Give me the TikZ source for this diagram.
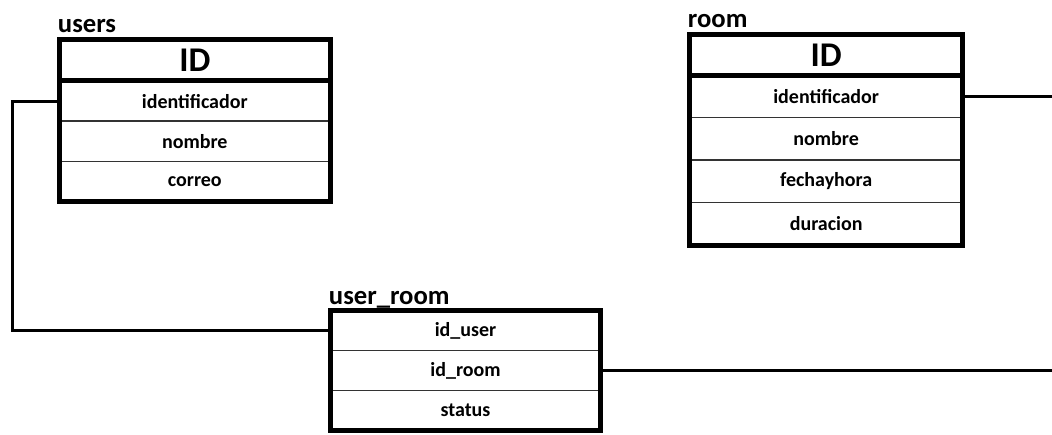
\documentclass[tikz,border=0pt]{standalone}
\usepackage{fontspec}
\setmainfont{Carlito}
\usetikzlibrary{positioning, fit}

\begin{document}
\begin{tikzpicture}[x=0.75pt, y=-0.75pt,
    field/.style={draw=black!80, line width=1.2pt, outer sep=0pt, inner sep=0pt, minimum width=203pt, minimum height=30.2pt, font=\bfseries\fontsize{15}{17}\selectfont},
    keyfield/.style={field, minimum height=31.1pt, font=\bfseries\fontsize{26}{28}\selectfont},
    table/.style={draw, line width=3.75pt, inner sep=0pt},
    title/.style={inner sep=0pt, font=\bfseries\fontsize{20}{22}\selectfont},
    link/.style={draw, line width=2.25pt}
    ]
    \useasboundingbox (0,0) rectangle (1052,435);

    % users
    \node[keyfield, anchor=north west] (usersID) at (59.5,39.5) {ID};
    \foreach \f [count=\i, remember=\i as \prev (initially ID)] in {identificador, nombre, correo} {
        \node[field, below=0pt of users\prev] (users\i) {\f};
    }
    \draw[line width=3.75pt] (usersID.south west) -- (usersID.south east);
    \node[table, fit=(usersID)(users3)] (users) {};
    \node[title, above right=3pt and 0.5pt of users.north west, anchor=base west] (usersname) {users};

    % room
    \node[keyfield, minimum width=205pt, minimum height=30.4pt, anchor=north west] (roomID) at (689.5,34.5) {ID};
    \foreach \f [count=\i, remember=\i as \prev (initially ID)] in {identificador, nombre, fechayhora, duracion} {
        \node[field, minimum width=205pt, minimum height=31.9pt, below=0pt of room\prev] (room\i) {\f};
    }
    \draw[line width=3.75pt] (roomID.south west) -- (roomID.south east);
    \node[table, fit=(roomID)(room4)] (room) {};
    \node[title, above right=3.5pt and 0.5pt of room.north west, anchor=base west] (roomname) {room};

    % user_room
    \foreach \f [count=\i, remember=\i as \prev] in {id\_user, id\_room, status} {
        \ifnum \i = 1
        \node[field, minimum width=202.5pt, minimum height=30pt, anchor=north west] (userroom\i) at (330.5,310.5) {\f};
        \else
        \node[field, minimum width=202.5pt, minimum height=30pt, below=0pt of userroom\prev] (userroom\i) {\f};
        \fi
    }
    \node[table, fit=(userroom1)(userroom3)] (userroom) {};
    \node[title, above right=2.5pt and 0.5pt of userroom.north west, anchor=base west] (userroomname) {user\_room};

    % connectors
    \coordinate (leftrail) at (12,0);
    \coordinate (rightedge) at (1052,0);
    \draw[link] (users1.west) -- (users1.west -| leftrail) |- (userroom1.west);
    \draw[link] (room1.east) -- (room1.east -| rightedge);
    \draw[link] (userroom2.east) -- (userroom2.east -| rightedge);
\end{tikzpicture}
\end{document}
